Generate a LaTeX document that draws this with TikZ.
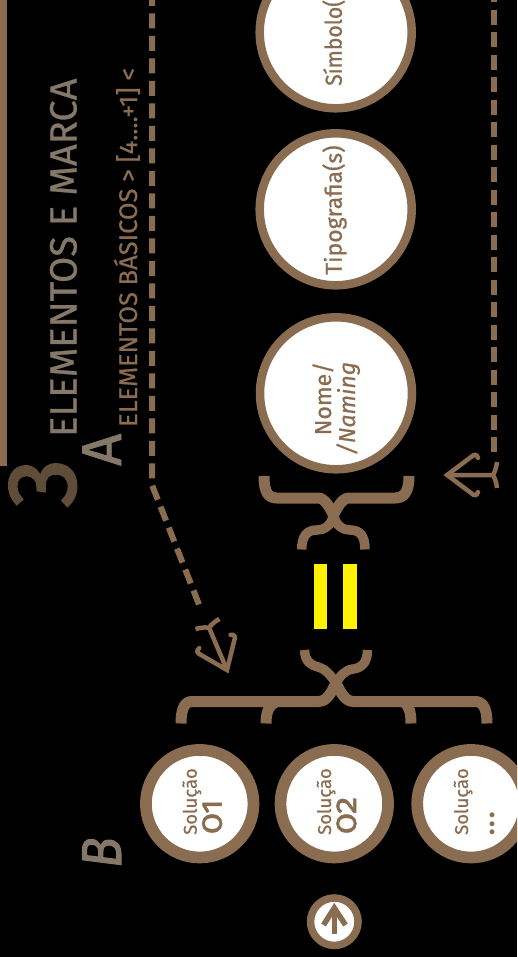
\documentclass[tikz,border=0pt]{standalone}
\usepackage{fontspec}
\setmainfont{Fira Sans}
\usepackage{tikz}
\definecolor{marca}{HTML}{8A6D50}
\definecolor{marcadark}{HTML}{5F4C39}
\definecolor{marcagrey}{HTML}{857868}
\tikzset{
  bigdisc/.style={circle,draw=marca,fill=white,line width=8.5pt,minimum size=152pt,inner sep=0pt},
  smalldisc/.style={circle,draw=marca,fill=white,line width=11.7pt,minimum size=107.6pt,inner sep=0pt},
  updisc/.style={circle,draw=marca,fill=white,line width=7.5pt,minimum size=47.5pt,inner sep=0pt},
  vtext/.style={rotate=90,anchor=base west,inner sep=0pt,text=#1},
  dashline/.style={draw=marca,line width=6pt,dash pattern=on 15pt off 7.5pt},
  bracebar/.style={draw=marca,line width=11pt},
  bracelobe/.style={draw=marca,line width=9.5pt},
  anchorarrow/.pic={
    \draw[marca,line width=4.5pt,line cap=round] (31,-17) .. controls (30,-21) and (27,-21) .. (24,-18) -- (0,0) -- (24,18) .. controls (27,21) and (30,21) .. (31,17);
    \draw[marca,line width=4.5pt] (0,0) -- (47,0) (50,-13) .. controls (49,-5) and (47,-2) .. (46,0) .. controls (47,2) and (49,5) .. (50,13);
  }
}
\begin{document}
\begin{tikzpicture}[x=1pt,y=-1pt]
  \useasboundingbox (0,0) rectangle (517,957);
  \fill[black] (0,0) rectangle (517,957);
  \clip (0,0) rectangle (517,957);

  % title
  \fill[marca] (0,0) rectangle (7,466);
  \node[vtext=marcadark,font=\fontsize{97}{97}\selectfont\addfontfeature{FakeBold=2.5}] (three) at (75,507.5) {3};
  \node[vtext=marcagrey,font=\fontsize{38}{38}\selectfont\addfontfeature{FakeBold=0.8}] (title) at (76.5,437) {ELEMENTOS E MARCA};
  \node[vtext=marcagrey,font=\fontsize{56}{56}\selectfont\addfontfeature{FakeBold=1.5}] (lettera) at (121,466) {A};
  \node[vtext=marca,font=\fontsize{25.5}{25.5}\selectfont\addfontfeature{FakeBold=0.5}] (subtitle) at (137,427) {ELEMENTOS BÁSICOS > [4....+1] <};
  \node[vtext=marcagrey,font=\fontsize{56}{56}\selectfont\itshape\addfontfeature{FakeBold=2,FakeStretch=0.9}] (letterb) at (121,868) {B};

  % dashed lines
  \coordinate (left top) at (152,0);
  \coordinate (left bend) at (152,485);
  \coordinate (left end) at (200,607);
  \coordinate (right top) at (494,0);
  \coordinate (right end) at (494,455);
  \draw[dashline,dash phase=9.2pt] (left top) -- (left bend) -- (left end);
  \draw[dashline,dash phase=12.6pt] (right top) -- (right end);
  \pic[rotate=113] at (227,670) {anchorarrow};
  \pic at (447,475) {anchorarrow};

  % top row
  \node[bigdisc] (simbolo) at (335.7,32.3) {};
  \node[bigdisc] (tipografia) at (335.7,209.3) {};
  \node[bigdisc] (nome) at (336,393.3) {};
  \node[vtext=marca,font=\fontsize{23}{23}\selectfont\addfontfeature{FakeBold=0.8,FakeStretch=0.92}] (simbolotext) at (341.7,86) {Símbolo(s)};
  \node[vtext=marca,font=\fontsize{23}{23}\selectfont\addfontfeature{FakeBold=0.8}] (tipografiatext) at (341.7,275) {Tipograf{}ia(s)};
  \node[rotate=90,anchor=base east,inner sep=0pt,text=marca,font=\fontsize{23}{24}\selectfont\addfontfeature{FakeBold=0.8},align=right] (nometext) at (355,361.7) {Nome/\\\textit{/Naming}};

  % first brace
  \draw[bracebar] (264,476) .. controls (264,492) and (268,498) .. (277,498) -- (318,498) .. controls (325,498) and (330,508) .. (333.5,515);
  \draw[bracebar] (409,476) .. controls (409,492) and (404,498) .. (395,498) -- (349,498) .. controls (342,498) and (337,508) .. (333.5,515);
  \draw[bracelobe] (333.5,515) .. controls (336,526) and (343,530) .. (350,530) .. controls (360,530) and (365,536) .. (365,549.5);
  \draw[bracelobe] (333.5,515) .. controls (331,526) and (324,530) .. (317,530) .. controls (307,530) and (301.7,536) .. (301.7,549.5);

  % equal sign
  \fill[yellow] (314,564.3) rectangle (327.3,629);
  \fill[yellow] (343.3,564.3) rectangle (357,629);

  % second brace
  \draw[bracelobe] (304.5,650) .. controls (305,662) and (311,665) .. (318,667) .. controls (326,669) and (331,676) .. (336,683);
  \draw[bracelobe] (367.5,650) .. controls (367.5,662) and (362,668) .. (353,669) .. controls (345,670) and (340,676) .. (336,683);
  \draw[bracebar] (336,683) .. controls (331,693) and (327,701.5) .. (318,701.5) -- (192,701.5) .. controls (185,701.5) and (181,708) .. (181,723.5);
  \draw[bracebar] (336,683) .. controls (341,693) and (345,701.5) .. (354,701.5) -- (475,701.5) .. controls (483,701.5) and (487,708) .. (487,723.5);
  \draw[bracebar] (266,723.5) .. controls (266,712) and (269,705) .. (276,702);
  \draw[bracebar] (411,723.5) .. controls (411,712) and (409,706) .. (404,702);

  % bottom row
  \node[smalldisc] (solucaoa) at (199.7,803.7) {};
  \node[smalldisc] (solucaob) at (334.3,803.7) {};
  \node[smalldisc] (solucaoc) at (471,803.7) {};
  \foreach \px/\nm in {196.7/a,331/b,468/c}
    \node[vtext=marca,font=\fontsize{18.5}{18.5}\selectfont\addfontfeature{FakeBold=0.5}] (soltext\nm) at (\px,835) {Solução};
  \foreach \px/\tx/\nm in {221.7/01/a,356/02/b}
    \node[vtext=marca,font=\fontsize{34}{34}\selectfont\addfontfeature{Numbers=OldStyle,FakeBold=1.5}] (numtext\nm) at (\px,834) {\tx};
  \node[vtext=marca,font=\fontsize{27}{27}\selectfont\bfseries] (numtextc) at (494,836) {.\kern2.2pt.\kern2.2pt.};

  % up button
  \node[updisc] (upbutton) at (334.3,921.7) {};
  \coordinate (up tip) at (334.3,908);
  \coordinate (up base) at (334.3,934);
  \draw[marca,line width=5.5pt] (up base) -- (up tip);
  \draw[marca,line width=5.5pt] (323.5,925) -- (up tip) -- (345.5,925);
\end{tikzpicture}
\end{document}
